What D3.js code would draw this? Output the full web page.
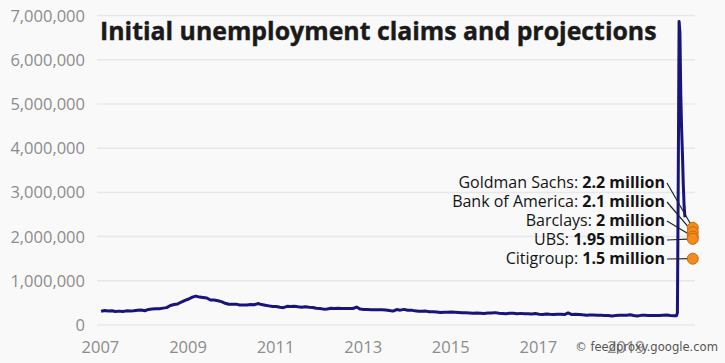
<!DOCTYPE html>
<html>
<head>
<meta charset="utf-8">
<script src="https://cdn.jsdelivr.net/npm/d3@7"></script>
<style>
  body { margin: 0; background: #f9f9f9; }
  svg { display: block; }
  .tick-label { font-family: "Open Sans", sans-serif; font-size: 16.5px; fill: #8c8c8c; }
  .note { font-family: "Open Sans", sans-serif; font-size: 16px; fill: #141414; }
</style>
</head>
<body>
<div id="chart"></div>
<script>
var svgWidth = 725;
var svgHeight = 363;

// monthly average initial claims, Jan 2007 - Feb 2020
var monthlyClaims = [
  312, 330, 318, 324, 306, 314, 306, 320, 317, 322, 336, 340,
  323, 352, 363, 370, 369, 382, 393, 440, 463, 477, 520, 557,
  588, 632, 654, 631, 623, 611, 566, 564, 548, 528, 492, 469,
  467, 472, 453, 455, 453, 462, 458, 485, 462, 448, 433, 419,
  420, 402, 392, 422, 421, 424, 411, 404, 413, 403, 397, 380,
  371, 359, 364, 381, 376, 381, 375, 371, 374, 373, 406, 360,
  352, 348, 344, 346, 345, 347, 340, 329, 314, 350, 336, 353,
  333, 336, 320, 310, 310, 314, 298, 302, 294, 283, 291, 288,
  296, 290, 285, 278, 276, 274, 268, 272, 267, 261, 269, 273,
  280, 265, 262, 253, 268, 266, 256, 263, 254, 257, 250, 259,
  245, 240, 249, 241, 236, 243, 243, 237, 274, 236, 243, 240,
  230, 222, 226, 227, 222, 222, 213, 213, 206, 213, 223, 222,
  219, 230, 217, 206, 218, 219, 213, 213, 213, 216, 221, 226,
  214, 211
];

// weekly claims during the spring 2020 spike
var weekDates = ["2020-03-07", "2020-03-14", "2020-03-21", "2020-03-28", "2020-04-04",
  "2020-04-11", "2020-04-18", "2020-04-25", "2020-05-02", "2020-05-09", "2020-05-16"];
var weekClaims = [211, 282, 3307, 6867, 6615, 5237, 4442, 3867, 3176, 2687, 2438];

var banks = ["Goldman Sachs", "Bank of America", "Barclays", "UBS", "Citigroup"];
var projections = [2.2, 2.1, 2, 1.95, 1.5];
var projectionDate = "2020-07-20";

var yearTicks = [2007, 2009, 2011, 2013, 2015, 2017, 2019];
var valueTicks = [0, 1000000, 2000000, 3000000, 4000000, 5000000, 6000000, 7000000];

var parseDate = d3.timeParse("%Y-%m-%d");

var series = monthlyClaims.map(function(v, i) {
  return { date: new Date(2007, i, 15), value: v * 1000 };
});
weekDates.forEach(function(d, i) {
  series.push({ date: parseDate(d), value: weekClaims[i] * 1000 });
});

var svg = d3.select("#chart")
  .append("svg")
  .attr("width", svgWidth)
  .attr("height", svgHeight);

var xScale = d3.scaleTime()
  .domain([new Date(2007, 0, 1), new Date(2020, 7, 1)])
  .range([99.4, 694.2]);

var yScale = d3.scaleLinear()
  .domain([0, 7000000])
  .range([325, 15.6]);

// gridlines + y labels
svg.append("g")
  .selectAll("line")
  .data(valueTicks)
  .enter()
  .append("line")
  .attr("x1", 97)
  .attr("x2", 695)
  .attr("y1", function(d) { return yScale(d); })
  .attr("y2", function(d) { return yScale(d); })
  .attr("stroke", "#e8e8e8")
  .attr("stroke-width", 1.5);

svg.append("g")
  .selectAll("text")
  .data(valueTicks)
  .enter()
  .append("text")
  .attr("class", "tick-label")
  .attr("x", 85)
  .attr("y", function(d) { return yScale(d) + 6; })
  .attr("text-anchor", "end")
  .text(function(d) { return d3.format(",")(d); });

// year labels
svg.append("g")
  .selectAll("text")
  .data(yearTicks)
  .enter()
  .append("text")
  .attr("class", "tick-label")
  .attr("x", function(d) { return xScale(new Date(d, 0, 1)) + 1; })
  .attr("y", 353)
  .attr("text-anchor", "middle")
  .text(function(d) { return d; });

// title
var title = svg.append("text")
  .attr("x", 100)
  .attr("y", 40)
  .attr("font-family", "'Open Sans', sans-serif")
  .attr("font-weight", "bold")
  .attr("font-size", 25)
  .attr("fill", "#1a1a1a")
  .attr("stroke", "#1a1a1a")
  .attr("stroke-width", 0.4)
  .text("Initial unemployment claims and projections");
var tw = title.node().getComputedTextLength();
title.attr("font-size", 25 * 557 / tw);

// claims line
var line = d3.line()
  .x(function(d) { return xScale(d.date); })
  .y(function(d) { return yScale(d.value); });

svg.append("path")
  .datum(series)
  .attr("d", line)
  .attr("fill", "none")
  .attr("stroke", "#17157c")
  .attr("stroke-width", 3)
  .attr("stroke-linejoin", "round");

// projection labels
var px = xScale(parseDate(projectionDate));
var notes = svg.append("g");
banks.forEach(function(b, i) {
  var baseline = 188 + i * 19;
  var t = notes.append("text")
    .attr("class", "note")
    .attr("x", 665)
    .attr("y", baseline)
    .attr("text-anchor", "end");
  t.append("tspan").text(b + ": ");
  t.append("tspan").attr("font-weight", "bold").text(projections[i] + " million");

  notes.append("line")
    .attr("x1", 667)
    .attr("y1", baseline - 5)
    .attr("x2", px)
    .attr("y2", yScale(projections[i] * 1000000))
    .attr("stroke", "#222")
    .attr("stroke-width", 1.2);
});

svg.append("g")
  .selectAll("circle")
  .data(projections)
  .enter()
  .append("circle")
  .attr("cx", px)
  .attr("cy", function(d) { return yScale(d * 1000000); })
  .attr("r", 5.5)
  .attr("fill", "#f28c1e")
  .attr("stroke", "#c86a08")
  .attr("stroke-width", 1);

// watermark
var mark = svg.append("text")
  .attr("x", 718)
  .attr("y", 351)
  .attr("text-anchor", "end")
  .attr("font-family", "'DejaVu Sans', sans-serif")
  .attr("font-size", 14)
  .attr("fill", "#555")
  .text("© feedproxy.google.com");
var mw = mark.node().getComputedTextLength();
mark.attr("font-size", 14 * 143 / mw);
</script>
</body>
</html>
